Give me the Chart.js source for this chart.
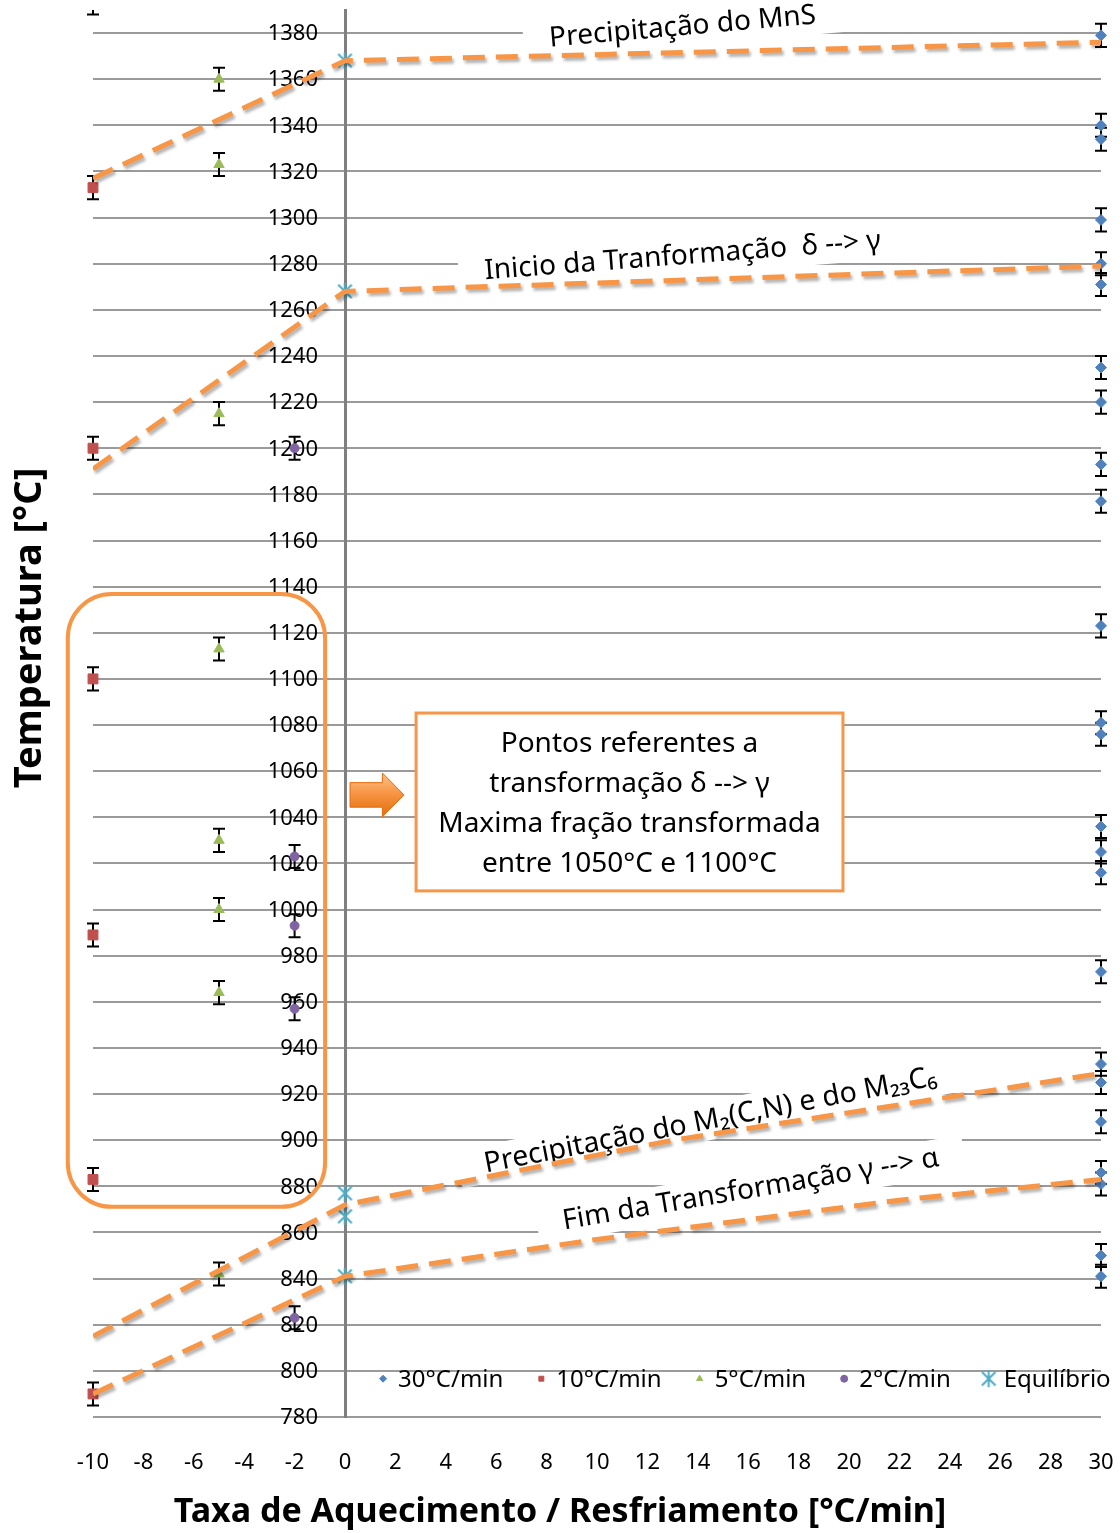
<!DOCTYPE html>
<html>
<head>
<meta charset="utf-8">
<script src="https://cdn.jsdelivr.net/npm/chart.js@4.4.1/dist/chart.umd.min.js"></script>
<style>
  html, body { margin: 0; padding: 0; background: #fff; }
  #wrap { width: 1120px; height: 1533px; }
</style>
</head>
<body>
<div id="wrap"><canvas id="chart"></canvas></div>
<script>
// axis ranges and tick labels
const xMin = -10, xMax = 30, xStep = 2;
const yMin = 780, yMax = 1390;
const yTickValues = [780, 800, 820, 840, 860, 880, 900, 920, 940, 960, 980, 1000, 1020, 1040, 1060,
                     1080, 1100, 1120, 1140, 1160, 1180, 1200, 1220, 1240, 1260, 1280, 1300, 1320,
                     1340, 1360, 1380];

// series (x = taxa, y = temperatura)
const seriesLabels = ['30°C/min', '10°C/min', '5°C/min', '2°C/min', 'Equilíbrio'];
const seriesRates = [30, -10, -5, -2, 0];
const temps30 = [1379, 1340, 1334, 1299, 1280, 1271, 1235, 1220, 1193, 1177, 1123, 1081, 1076,
                 1036, 1025, 1016, 973, 933, 925, 908, 886, 881, 850, 841];
const temps10 = [1393, 1313, 1200, 1100, 989, 883, 790];
const temps5 = [1360, 1323, 1215, 1113, 1030, 1000, 964, 842];
const temps2 = [1200, 1023, 993, 957, 823];
const tempsEq = [1368, 1268, 877, 867, 841];
const errorHalf = 5;

// hand drawn trend lines [taxa, temperatura]
const lineMnS = [[-10, 1317], [0, 1368], [30, 1376]];
const lineDeltaGamma = [[-10, 1191], [0, 1268], [30, 1279]];
const lineM2CN = [[-10, 815], [0, 872], [13, 900], [30, 929]];
const lineGammaAlpha = [[-10, 790], [0, 841], [10, 857], [22, 874], [30, 883]];

const FONT = "'Noto Sans', 'Open Sans', sans-serif";
const ORANGE = '#F79646';

// excel style asterisk marker (X with a vertical bar)
function asterisk(size, color, lw) {
  const c = document.createElement('canvas');
  c.width = size; c.height = size;
  const g = c.getContext('2d');
  const m = size / 2, r = size / 2 - 1;
  g.strokeStyle = color; g.lineWidth = lw;
  g.beginPath();
  g.moveTo(m, m - r); g.lineTo(m, m + r);
  g.moveTo(m - r * 0.8, m - r * 0.8); g.lineTo(m + r * 0.8, m + r * 0.8);
  g.moveTo(m + r * 0.8, m - r * 0.8); g.lineTo(m - r * 0.8, m + r * 0.8);
  g.stroke();
  return c;
}

function pts(rate, temps) { return temps.map(t => ({ x: rate, y: t })); }
function trend(arr) {
  return {
    type: 'line', trend: true, data: arr.map(p => ({ x: p[0], y: p[1] })),
    borderColor: ORANGE, borderWidth: 5, borderDash: [22, 11], pointRadius: 0,
    fill: false, tension: 0
  };
}

const seriesStyles = [
  { color: '#4F81BD', style: 'rectRot', r: 5.5 },
  { color: '#C0504D', style: 'rect', r: 7 },
  { color: '#9BBB59', style: 'triangle', r: 6 },
  { color: '#8064A2', style: 'circle', r: 4.5 },
  { color: '#4BACC6', style: asterisk(19, '#4BACC6', 2), r: 9 }
];
const seriesTemps = [temps30, temps10, temps5, temps2, tempsEq];

const scatterSets = seriesLabels.map((label, i) => ({
  type: 'scatter', label,
  data: pts(seriesRates[i], seriesTemps[i]),
  pointStyle: seriesStyles[i].style,
  pointRadius: seriesStyles[i].r,
  backgroundColor: seriesStyles[i].color,
  borderColor: seriesStyles[i].color,
  borderWidth: 1,
  clip: { left: 12, top: 0, right: 12, bottom: 12 },
  errorBar: i === 4 ? 0 : errorHalf
}));

// y tick labels sit left of the axis drawn at x = 0
const yLabelPlugin = {
  id: 'yLabels',
  beforeDatasetsDraw(chart) {
    const { ctx, scales: { x, y } } = chart;
    const ax = x.getPixelForValue(0);
    ctx.save();
    ctx.font = '22px ' + FONT;
    ctx.fillStyle = '#000';
    ctx.textAlign = 'right';
    ctx.textBaseline = 'middle';
    yTickValues.forEach(v => ctx.fillText(String(v), ax - 27, y.getPixelForValue(v) + 1));
    ctx.restore();
  }
};

// annotations
const labelPlugin = {
  id: 'labels',
  beforeDatasetsDraw(chart) {
    const { ctx, scales: { x, y } } = chart;
    const items = [
      { t: 'Precipitação do MnS', x: 13.4, y: 1382.6, a: -5, size: 28 },
      { t: 'Inicio da Tranformação  δ --> γ', x: 13.4, y: 1283.3, a: -4.4, size: 28 },
      { t: 'Precipitação do M₂(C,N) e do M₂₃C₆', x: 14.5, y: 908.5, a: -11, size: 28.5 },
      { t: 'Fim da Transformação γ --> α', x: 16.1, y: 878.5, a: -9.6, size: 28 }
    ];
    ctx.save();
    items.forEach(it => {
      ctx.save();
      ctx.translate(x.getPixelForValue(it.x), y.getPixelForValue(it.y));
      ctx.rotate(it.a * Math.PI / 180);
      ctx.font = it.size + 'px ' + FONT;
      const w = ctx.measureText(it.t).width;
      ctx.fillStyle = '#fff';
      ctx.fillRect(-w / 2 - 26, -19, w + 52, 38);
      ctx.fillStyle = '#000';
      ctx.textAlign = 'center';
      ctx.textBaseline = 'middle';
      ctx.fillText(it.t, 0, 0);
      ctx.restore();
    });
    ctx.restore();
  }
};

const errorBarPlugin = {
  id: 'errorBars',
  beforeDatasetsDraw(chart) {
    const { ctx, chartArea, scales: { x, y } } = chart;
    ctx.save();
    ctx.beginPath();
    ctx.rect(0, chartArea.top, chart.width, chart.height);
    ctx.clip();
    ctx.strokeStyle = '#000';
    ctx.lineWidth = 2;
    chart.data.datasets.forEach(ds => {
      if (!ds.errorBar) return;
      ds.data.forEach(p => {
        const px = x.getPixelForValue(p.x);
        const top = y.getPixelForValue(p.y + ds.errorBar);
        const bot = y.getPixelForValue(p.y - ds.errorBar);
        ctx.beginPath();
        ctx.moveTo(px, top); ctx.lineTo(px, bot);
        ctx.moveTo(px - 6, top); ctx.lineTo(px + 6, top);
        ctx.moveTo(px - 6, bot); ctx.lineTo(px + 6, bot);
        ctx.stroke();
      });
    });
    ctx.restore();
  }
};

const shadowPlugin = {
  id: 'shadow',
  beforeDatasetDraw(chart, args) {
    if (!chart.data.datasets[args.index].trend) return;
    const ctx = chart.ctx;
    ctx.save();
    ctx.shadowColor = 'rgba(0,0,0,0.3)';
    ctx.shadowOffsetX = 2;
    ctx.shadowOffsetY = 3;
    ctx.shadowBlur = 3;
  },
  afterDatasetDraw(chart, args) {
    if (!chart.data.datasets[args.index].trend) return;
    chart.ctx.restore();
  }
};

const overlayPlugin = {
  id: 'overlay',
  afterDatasetsDraw(chart) {
    const { ctx, scales: { x, y } } = chart;
    ctx.save();

    // rounded box around the delta->gamma points
    const rx0 = x.getPixelForValue(-11.0), rx1 = x.getPixelForValue(-0.79);
    const ry0 = y.getPixelForValue(1136.8), ry1 = y.getPixelForValue(871.1);
    ctx.strokeStyle = ORANGE;
    ctx.lineWidth = 4;
    ctx.beginPath();
    ctx.roundRect(rx0, ry0, rx1 - rx0, ry1 - ry0, 44);
    ctx.stroke();

    // arrow
    const ax0 = x.getPixelForValue(0.2), ax1 = x.getPixelForValue(2.34);
    const ay0 = y.getPixelForValue(1059.2), ay1 = y.getPixelForValue(1040.2);
    const am = (ay0 + ay1) / 2, ah = (ay1 - ay0);
    const neck = ax0 + (ax1 - ax0) * 0.6;
    const g = ctx.createLinearGradient(0, ay0, 0, ay1);
    g.addColorStop(0, '#FCC38B');
    g.addColorStop(0.45, '#F79646');
    g.addColorStop(1, '#E46C0A');
    ctx.fillStyle = g;
    ctx.strokeStyle = '#E46C0A';
    ctx.lineWidth = 1;
    ctx.beginPath();
    ctx.moveTo(ax0, am - ah * 0.28);
    ctx.lineTo(neck, am - ah * 0.28);
    ctx.lineTo(neck, ay0);
    ctx.lineTo(ax1, am);
    ctx.lineTo(neck, ay1);
    ctx.lineTo(neck, am + ah * 0.28);
    ctx.lineTo(ax0, am + ah * 0.28);
    ctx.closePath();
    ctx.fill();
    ctx.stroke();

    // callout box
    const bx0 = x.getPixelForValue(2.82), bx1 = x.getPixelForValue(19.76);
    const by0 = y.getPixelForValue(1085.2), by1 = y.getPixelForValue(1008.1);
    ctx.fillStyle = '#fff';
    ctx.fillRect(bx0, by0, bx1 - bx0, by1 - by0);
    ctx.strokeStyle = ORANGE;
    ctx.lineWidth = 3;
    ctx.strokeRect(bx0, by0, bx1 - bx0, by1 - by0);
    const boxLines = ['Pontos referentes a', 'transformação δ --> γ',
                      'Maxima fração transformada', 'entre 1050°C e 1100°C'];
    ctx.fillStyle = '#000';
    ctx.font = '28px ' + FONT;
    ctx.textAlign = 'center';
    ctx.textBaseline = 'middle';
    boxLines.forEach((l, i) => ctx.fillText(l, (bx0 + bx1) / 2, by0 + 31 + i * 40));

    // legend inside the plot
    let lx = x.getPixelForValue(1.51);
    const ly = y.getPixelForValue(796.6);
    ctx.font = '24px ' + FONT;
    ctx.textAlign = 'left';
    chart.data.datasets.forEach(ds => {
      if (ds.trend) return;
      const isImg = typeof ds.pointStyle !== 'string';
      ctx.fillStyle = ds.backgroundColor;
      ctx.strokeStyle = ds.borderColor;
      ctx.lineWidth = 1;
      Chart.helpers.drawPoint(ctx, { pointStyle: ds.pointStyle, radius: isImg ? 9 : 3.5, rotation: 0, borderWidth: 1 }, lx, ly);
      ctx.fillStyle = '#000';
      ctx.fillText(ds.label, lx + 15, ly + 1);
      lx += 15 + ctx.measureText(ds.label).width + 38;
    });

    // axis titles
    ctx.font = 'bold 34px ' + FONT;
    ctx.textAlign = 'center';
    ctx.fillText('Taxa de Aquecimento / Resfriamento [°C/min]', 560, 1512);
    ctx.save();
    ctx.translate(30, 628);
    ctx.rotate(-Math.PI / 2);
    ctx.font = 'bold 38px ' + FONT;
    ctx.fillText('Temperatura [°C]', 0, 0);
    ctx.restore();

    ctx.restore();
  }
};

new Chart(document.getElementById('chart'), {
  type: 'scatter',
  data: {
    datasets: [
      trend(lineMnS), trend(lineDeltaGamma), trend(lineM2CN), trend(lineGammaAlpha),
      ...scatterSets
    ]
  },
  options: {
    responsive: true,
    maintainAspectRatio: false,
    animation: false,
    layout: { padding: { left: 93, right: 19, top: 10, bottom: 0 } },
    plugins: { legend: { display: false }, tooltip: { enabled: false } },
    scales: {
      x: {
        type: 'linear', min: xMin, max: xMax,
        ticks: { stepSize: xStep, color: '#000', font: { family: FONT, size: 22 }, padding: 25 },
        grid: { display: false },
        border: { display: false },
        afterFit(s) { s.height = 116; s.paddingLeft = 0; s.paddingRight = 0; }
      },
      y: {
        type: 'linear', min: yMin, max: yMax,
        position: { x: 0 },
        afterBuildTicks(s) { s.ticks = yTickValues.map(v => ({ value: v })); },
        afterFit(s) { s.paddingTop = 0; s.paddingBottom = 0; },
        ticks: { display: false },
        grid: { color: '#9a9a9a', lineWidth: 2, drawTicks: false },
        border: { color: '#7f7f7f', width: 3 }
      }
    }
  },
  plugins: [yLabelPlugin, labelPlugin, errorBarPlugin, shadowPlugin, overlayPlugin]
});
</script>
</body>
</html>
